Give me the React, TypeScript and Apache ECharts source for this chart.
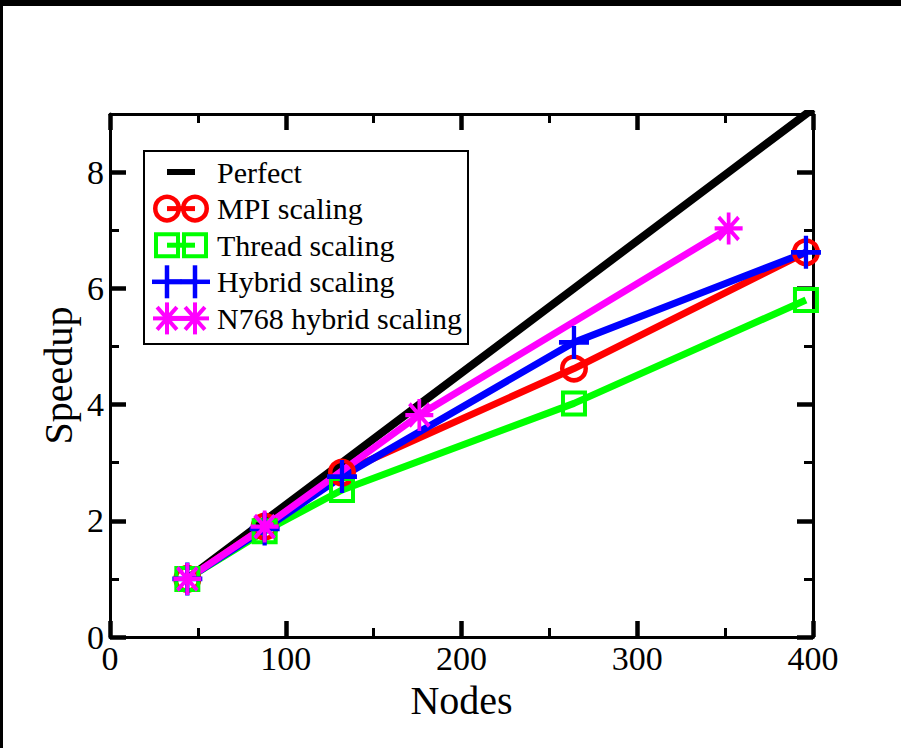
import React, { useEffect, useRef } from 'react';
import * as echarts from 'echarts';

// ---- data ----
const perfectNodes = [44, 88, 132, 176, 264, 352, 400];
const perfectSpeedup = [1, 2, 3, 4, 6, 8, 9.09];
const mpiNodes = [44, 88, 132, 264, 396];
const mpiSpeedup = [1, 1.9, 2.83, 4.62, 6.62];
const threadNodes = [44, 88, 132, 264, 396];
const threadSpeedup = [1, 1.82, 2.53, 4.02, 5.8];
const hybridNodes = [44, 88, 132, 264, 396];
const hybridSpeedup = [1, 1.86, 2.76, 5.07, 6.62];
const n768Nodes = [44, 88, 176, 352];
const n768Speedup = [1, 1.9, 3.82, 7.03];

const seriesNames = ['Perfect', 'MPI scaling', 'Thread scaling', 'Hybrid scaling', 'N768 hybrid scaling'];
const xAxisName = 'Nodes';
const yAxisName = 'Speedup';
const yMajorTicks = [0, 2, 4, 6, 8];
const yMinorTicks = [1, 3, 5, 7];

const FONT = "'Liberation Serif', 'Times New Roman', serif";
const BLACK = '#000000';
const RED = '#ff0000';
const GREEN = '#00ff00';
const BLUE = '#0000ff';
const MAGENTA = '#ff00ff';

const PLUS_PATH = 'path://M50,0L50,100M0,50L100,50';
const STAR_PATH = 'path://M50,0L50,100M0,50L100,50M14.6,14.6L85.4,85.4M85.4,14.6L14.6,85.4';

const pairs = (xs: number[], ys: number[]) => xs.map((x, i) => [x, ys[i]]);

function legendMarker(kind: string, cx: number, cy: number, color: string): any[] {
  const line = (x1: number, y1: number, x2: number, y2: number, w: number) => ({
    type: 'line',
    shape: { x1, y1, x2, y2 },
    style: { stroke: color, lineWidth: w },
    z: 12,
  });
  if (kind === 'circle') {
    return [{ type: 'circle', shape: { cx, cy, r: 11.75 }, style: { fill: 'none', stroke: color, lineWidth: 4.5 }, z: 12 }];
  }
  if (kind === 'rect') {
    return [{ type: 'rect', shape: { x: cx - 11, y: cy - 11, width: 22, height: 22 }, style: { fill: 'none', stroke: color, lineWidth: 4 }, z: 12 }];
  }
  if (kind === 'plus') {
    return [line(cx - 15, cy, cx + 15, cy, 4.5), line(cx, cy - 16.5, cx, cy + 16.5, 4.5)];
  }
  if (kind === 'star') {
    const r = 14;
    const d = r * 0.707;
    return [
      line(cx - r, cy, cx + r, cy, 4),
      line(cx, cy - 16, cx, cy + 16, 4),
      line(cx - d, cy - d * 1.14, cx + d, cy + d * 1.14, 4),
      line(cx + d, cy - d * 1.14, cx - d, cy + d * 1.14, 4),
    ];
  }
  return [];
}

export default function App() {
  const ref = useRef<HTMLDivElement>(null);

  useEffect(() => {
    document.body.style.margin = '0';
    if (!ref.current) return;
    const chart = echarts.init(ref.current, undefined, { renderer: 'svg' });

    const xBase: any = {
      type: 'value',
      min: 0,
      max: 400,
      interval: 100,
      axisLine: { show: true, onZero: false, lineStyle: { color: BLACK, width: 3 } },
      axisTick: { show: true, inside: true, length: 16, lineStyle: { color: BLACK, width: 4.5 } },
      minorTick: { show: true, splitNumber: 2, length: 9, lineStyle: { color: BLACK, width: 3 } },
      splitLine: { show: false },
      minorSplitLine: { show: false },
    };

    const yMajor = (position: string, labels: boolean): any => ({
      type: 'value',
      position,
      min: 0,
      max: 9,
      axisLine: { show: true, onZero: false, lineStyle: { color: BLACK, width: 3 } },
      axisTick: { show: true, inside: true, length: 16, customValues: yMajorTicks, lineStyle: { color: BLACK, width: 4.5 } },
      axisLabel: labels
        ? { show: true, customValues: yMajorTicks, fontSize: 34, fontFamily: FONT, color: BLACK, margin: 6 }
        : { show: false },
      splitLine: { show: false },
    });
    const yMinor = (position: string): any => ({
      type: 'value',
      position,
      min: 0,
      max: 9,
      axisLine: { show: false, onZero: false },
      axisTick: { show: true, inside: true, length: 9, customValues: yMinorTicks, lineStyle: { color: BLACK, width: 3 } },
      axisLabel: { show: false },
      splitLine: { show: false },
    });

    const legendRows = [
      { name: seriesNames[0], color: BLACK, kind: 'none' },
      { name: seriesNames[1], color: RED, kind: 'circle' },
      { name: seriesNames[2], color: GREEN, kind: 'rect' },
      { name: seriesNames[3], color: BLUE, kind: 'plus' },
      { name: seriesNames[4], color: MAGENTA, kind: 'star' },
    ];
    const legendGraphics: any[] = [
      {
        type: 'rect',
        shape: { x: 144, y: 151, width: 324, height: 193 },
        style: { fill: '#ffffff', stroke: BLACK, lineWidth: 2 },
        z: 10,
      },
    ];
    const rowY0 = 172;
    const rowStep = 36.6;
    const mx1 = 167;
    const mx2 = 195;
    legendRows.forEach((row, i) => {
      const cy = rowY0 + i * rowStep;
      legendGraphics.push({
        type: 'line',
        shape: { x1: mx1, y1: cy, x2: mx2, y2: cy },
        style: { stroke: row.color, lineWidth: i === 0 ? 6 : 5 },
        z: 11,
      });
      legendGraphics.push(...legendMarker(row.kind, mx1, cy, row.color));
      legendGraphics.push(...legendMarker(row.kind, mx2, cy, row.color));
      legendGraphics.push({
        type: 'text',
        x: 217,
        y: cy,
        style: { text: row.name, fontSize: 30, fontFamily: FONT, fill: BLACK, align: 'left', verticalAlign: 'middle' },
        z: 12,
      });
    });

    chart.setOption({
      animation: false,
      backgroundColor: '#ffffff',
      grid: { left: 110, right: 88, top: 114, bottom: 111, containLabel: false },
      xAxis: [
        {
          ...xBase,
          position: 'bottom',
          axisLabel: { show: true, fontSize: 34, lineHeight: 30, fontFamily: FONT, color: BLACK, margin: 6 },
          name: xAxisName,
          nameLocation: 'middle',
          nameGap: 48,
          nameMoveOverlap: false,
          nameTextStyle: { fontSize: 40, lineHeight: 30, fontFamily: FONT, color: BLACK },
        },
        { ...xBase, position: 'top', axisLabel: { show: false } },
      ],
      yAxis: [
        {
          ...yMajor('left', true),
          name: yAxisName,
          nameLocation: 'middle',
          nameRotate: 90,
          nameGap: 32,
          nameMoveOverlap: false,
          nameTextStyle: { fontSize: 40, fontFamily: FONT, color: BLACK },
        },
        yMinor('left'),
        yMajor('right', false),
        yMinor('right'),
      ],
      series: [
        {
          name: seriesNames[0],
          type: 'line',
          data: pairs(perfectNodes, perfectSpeedup),
          showSymbol: false,
          symbol: 'none',
          lineStyle: { color: BLACK, width: 8 },
          itemStyle: { color: BLACK },
          clip: true,
        },
        {
          name: seriesNames[1],
          type: 'line',
          data: pairs(mpiNodes, mpiSpeedup),
          symbol: 'circle',
          symbolSize: 23.5,
          lineStyle: { color: RED, width: 7 },
          itemStyle: { color: 'transparent', borderColor: RED, borderWidth: 4.5 },
          clip: true,
        },
        {
          name: seriesNames[2],
          type: 'line',
          data: pairs(threadNodes, threadSpeedup),
          symbol: 'rect',
          symbolSize: 22,
          lineStyle: { color: GREEN, width: 7 },
          itemStyle: { color: 'transparent', borderColor: GREEN, borderWidth: 4 },
          clip: true,
        },
        {
          name: seriesNames[3],
          type: 'line',
          data: pairs(hybridNodes, hybridSpeedup),
          symbol: PLUS_PATH,
          symbolSize: [30, 33],
          lineStyle: { color: BLUE, width: 7 },
          itemStyle: { color: 'transparent', borderColor: BLUE, borderWidth: 4.5 },
          clip: true,
        },
        {
          name: seriesNames[4],
          type: 'line',
          data: pairs(n768Nodes, n768Speedup),
          symbol: STAR_PATH,
          symbolSize: [28, 32],
          lineStyle: { color: MAGENTA, width: 7 },
          itemStyle: { color: 'transparent', borderColor: MAGENTA, borderWidth: 4 },
          clip: true,
        },
      ],
      graphic: legendGraphics,
    });

    return () => {
      chart.dispose();
    };
  }, []);

  return (
    <div style={{ position: 'relative', width: 901, height: 748, background: '#ffffff', overflow: 'hidden' }}>
      <div ref={ref} style={{ position: 'absolute', left: 0, top: 0, width: 901, height: 748 }} />
      <div style={{ position: 'absolute', left: 0, top: 0, width: 901, height: 6, background: '#000000' }} />
      <div style={{ position: 'absolute', left: 0, top: 0, width: 3, height: 748, background: '#000000' }} />
    </div>
  );
}
